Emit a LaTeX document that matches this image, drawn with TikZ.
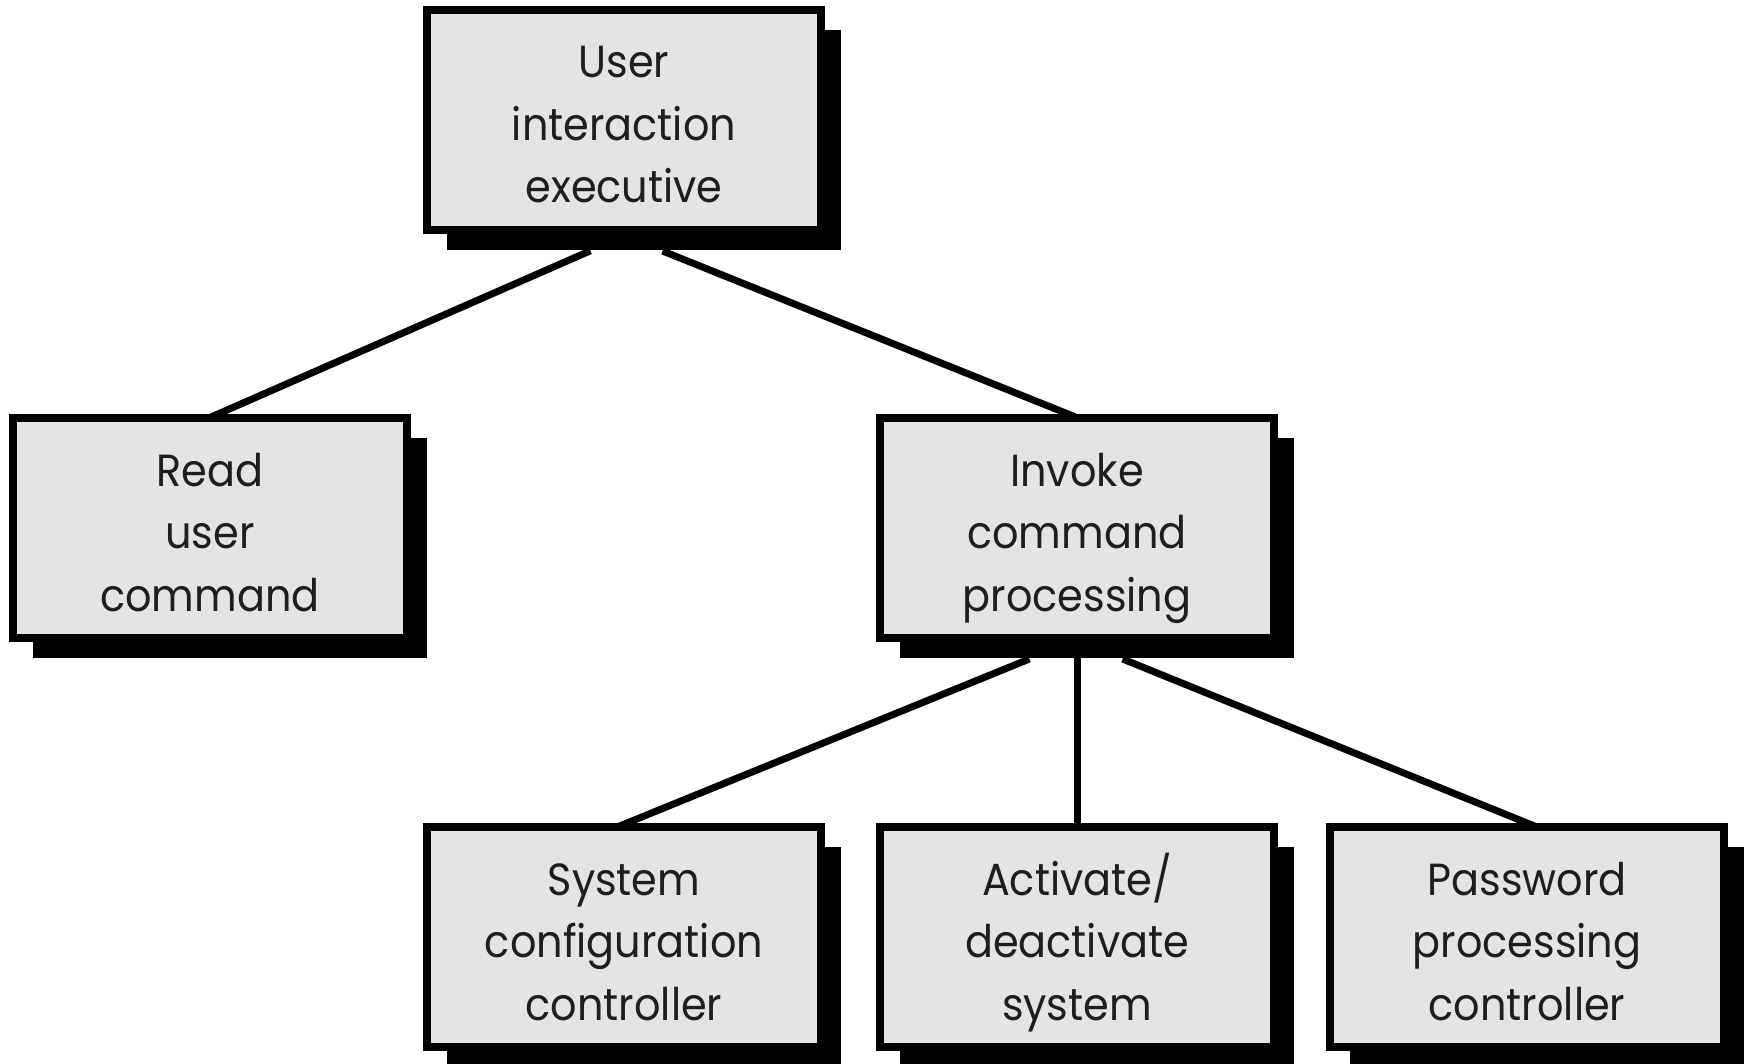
\documentclass[tikz,border=0pt]{standalone}
\usepackage{fontspec}
\setmainfont[FakeStretch=0.92]{Poppins}
\usetikzlibrary{shadows,calc,backgrounds}
\definecolor{boxgray}{RGB}{228,228,228}
\definecolor{txt}{RGB}{30,30,30}
\begin{document}
\begin{tikzpicture}[x=1pt,y=1pt,
  modbox/.style={draw=black, line width=8pt, fill=boxgray, minimum width=394pt, minimum height=220pt,
    align=center, text=txt, inner sep=0pt, text height=172pt, text depth=6pt,
    font=\fontsize{45}{62.5}\selectfont,
    drop shadow={opacity=1, fill=black, shadow xshift=20pt, shadow yshift=-20pt}},
  conn/.style={line width=7pt, black, shorten <=-8pt, shorten >=-8pt}]
\useasboundingbox (0,0) rectangle (1750,-1064);
\node[modbox] (top) at (624,-120) {User\\interaction\\executive};
\node[modbox] (read) at (210,-528) {Read\\user\\command};
\node[modbox] (inv) at (1077,-528) {Invoke\\command\\processing};
\node[modbox] (sys) at (624,-937) {System\\configuration\\controller};
\node[modbox] (act) at (1077,-937) {Activate/\\deactivate\\system};
\node[modbox] (pw) at (1527,-937) {Password\\processing\\controller};
\begin{scope}[on background layer]
\draw[conn] ($(top.south)+(-41,-20)$) -- ($(read.north)+(8,0)$);
\draw[conn] ($(top.south)+(46,-20)$) -- ($(inv.north)+(-9,0)$);
\draw[conn] ($(inv.south)+(-55,-20)$) -- ($(sys.north)+(3,0)$);
\draw[conn] ($(inv.south)+(0,-20)$) -- (act.north);
\draw[conn] ($(inv.south)+(53,-20)$) -- (pw.north);
\end{scope}
\end{tikzpicture}
\end{document}
